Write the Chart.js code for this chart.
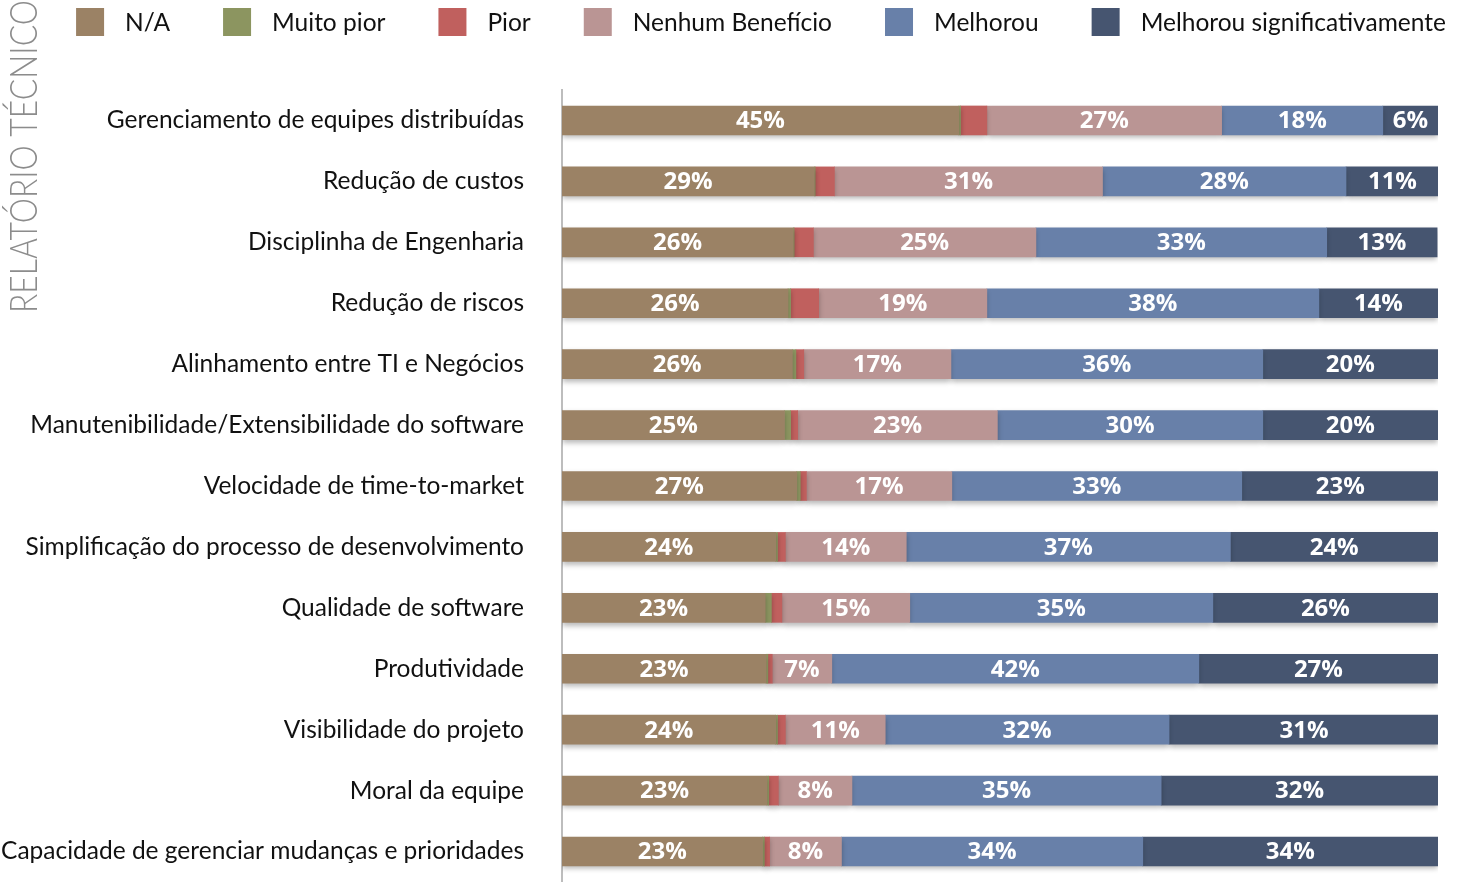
<!DOCTYPE html>
<html>
<head>
<meta charset="utf-8">
<script src="https://cdn.jsdelivr.net/npm/chart.js@4.4.0/dist/chart.umd.min.js"></script>
<style>
  html, body { margin: 0; padding: 0; background: #fff; overflow: hidden; }
  canvas { display: block; }
</style>
</head>
<body>
<canvas id="chart" width="1462" height="882"></canvas>
<script>
const categories = [
  "Gerenciamento de equipes distribuídas",
  "Redução de custos",
  "Disciplinha de Engenharia",
  "Redução de riscos",
  "Alinhamento entre TI e Negócios",
  "Manutenibilidade/Extensibilidade do software",
  "Velocidade de time-to-market",
  "Simplificação do processo de desenvolvimento",
  "Qualidade de software",
  "Produtividade",
  "Visibilidade do projeto",
  "Moral da equipe",
  "Capacidade de gerenciar mudanças e prioridades"
];
const seriesNames = ["N/A", "Muito pior", "Pior", "Nenhum Benefício", "Melhorou", "Melhorou significativamente"];
const seriesColors = ["#9b8265", "#8c9560", "#c0605e", "#ba9594", "#6880a9", "#465570"];

const naValues       = [45.3, 28.8, 26.4, 25.8, 26.3, 25.4, 26.8, 24.4, 23.2, 23.3, 24.4, 23.4, 22.9];
const muitoPiorVals  = [0.2, 0.1, 0.1, 0.3, 0.4, 0.7, 0.4, 0.2, 0.7, 0.2, 0.2, 0.2, 0.2];
const piorValues     = [3.0, 2.2, 2.2, 3.2, 0.9, 0.8, 0.7, 0.9, 1.2, 0.5, 0.9, 1.1, 0.6];
const nenhumValues   = [26.8, 30.6, 25.4, 19.2, 16.8, 22.8, 16.6, 13.8, 14.6, 6.8, 11.4, 8.4, 8.2];
const melhorouValues = [18.4, 27.8, 33.2, 37.9, 35.6, 30.3, 33.1, 37.0, 34.6, 41.9, 32.4, 35.3, 34.4];
const sigValues      = [6.3, 10.6, 12.6, 13.6, 20.0, 20.0, 22.5, 23.7, 25.7, 27.3, 30.8, 31.6, 33.7];

const allSeries = [naValues, muitoPiorVals, piorValues, nenhumValues, melhorouValues, sigValues];
const labelledSeries = [0, 3, 4, 5];

// shadow under the bars + white percentage labels
const barDecor = {
  id: 'barDecor',
  beforeDatasetsDraw(chart) {
    const ctx = chart.ctx;
    ctx.save();
    ctx.shadowColor = 'rgba(0,0,0,0.28)';
    ctx.shadowBlur = 5;
    ctx.shadowOffsetY = 3;
  },
  afterDatasetsDraw(chart) {
    const ctx = chart.ctx;
    ctx.restore();
    ctx.save();
    ctx.font = 'bold 24px "Open Sans", Lato, sans-serif';
    ctx.fillStyle = '#fff';
    ctx.textAlign = 'center';
    ctx.textBaseline = 'middle';
    labelledSeries.forEach(i => {
      chart.getDatasetMeta(i).data.forEach((bar, j) => {
        const v = chart.data.datasets[i].data[j];
        const cx = (bar.x + bar.base) / 2;
        ctx.fillText(Math.round(v) + '%', cx, bar.y + 1);
      });
    });
    ctx.restore();
  }
};

// legend row across the top and the rotated side title
const topDecor = {
  id: 'topDecor',
  afterDraw(chart) {
    const ctx = chart.ctx;
    ctx.save();
    ctx.font = '24.5px Lato, sans-serif';
    ctx.textBaseline = 'middle';
    const box = 28, gapText = 21, gapItem = 53;
    const items = chart.data.datasets.map(d => ({ label: d.label, color: d.backgroundColor, w: ctx.measureText(d.label).width }));
    const total = items.reduce((s, it) => s + box + gapText + it.w, 0) + gapItem * (items.length - 1);
    let x = 761 - total / 2;
    items.forEach(it => {
      ctx.fillStyle = it.color;
      ctx.fillRect(x, 8, box, box);
      ctx.fillStyle = '#111';
      ctx.fillText(it.label, x + box + gapText, 23);
      x += box + gapText + it.w + gapItem;
    });
    ctx.restore();

    ctx.save();
    ctx.translate(37, 313);
    ctx.rotate(-Math.PI / 2);
    ctx.font = '300 38px Lato, sans-serif';
    ctx.fillStyle = '#8c8c8c';
    ctx.textBaseline = 'alphabetic';
    ctx.fillText('RELATÓRIO TÉCNICO', 0, 0, 313);
    ctx.restore();
  }
};

new Chart(document.getElementById('chart'), {
  type: 'bar',
  data: {
    labels: categories,
    datasets: allSeries.map((vals, i) => ({
      label: seriesNames[i],
      data: vals,
      backgroundColor: seriesColors[i],
      borderWidth: 0,
      barThickness: 29
    }))
  },
  options: {
    indexAxis: 'y',
    responsive: false,
    animation: false,
    layout: { padding: { top: 90, right: 24, bottom: 0, left: 0 } },
    plugins: {
      legend: { display: false },
      tooltip: { enabled: false }
    },
    scales: {
      x: { stacked: true, min: 0, max: 100, display: false },
      y: {
        stacked: true,
        grid: { display: false },
        border: { display: true, color: '#bdbdbd', width: 2 },
        ticks: {
          padding: 30,
          color: '#111',
          font: { family: 'Lato, sans-serif', size: 24.5 }
        },
        afterFit(scale) {
          scale.width = 562;
          scale.paddingTop = 0;
          scale.paddingBottom = 0;
        }
      }
    }
  },
  plugins: [barDecor, topDecor]
});
</script>
</body>
</html>
